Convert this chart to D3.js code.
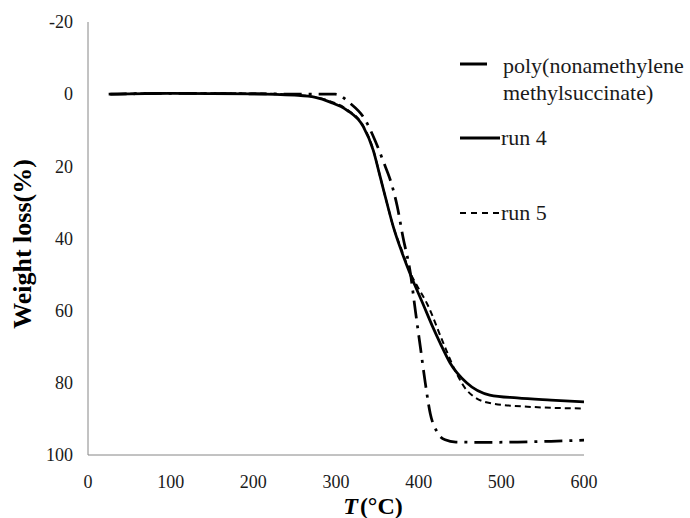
<!DOCTYPE html>
<html>
<head>
<meta charset="utf-8">
<script src="https://cdn.jsdelivr.net/npm/d3@7"></script>
<style>
  body { margin: 0; background: #fff; }
  svg { display: block; }
</style>
</head>
<body>
<svg id="chart" width="690" height="518" font-family="Liberation Serif, Times New Roman, serif"></svg>
<script>
// TGA curves, weight loss (%) vs temperature (C)
var xTicks = [0, 100, 200, 300, 400, 500, 600];
var yTicks = [-20, 0, 20, 40, 60, 80, 100];

var polyT = [25, 100, 200, 270, 299, 317, 335, 347, 357, 368, 374, 381, 390, 396, 402, 408, 414, 422, 432, 445, 480, 520, 560, 600];
var polyW = [0, -0.2, -0.1, 0, 0, 2.5, 7, 12.7, 18.5, 25.5, 31, 39.6, 49.6, 60, 70, 80, 88.5, 93.5, 95.8, 96.4, 96.5, 96.4, 96.2, 95.9];

var run4T = [27, 100, 200, 250, 275, 293, 313, 333, 345, 353, 362, 369, 380, 390, 405, 417, 426, 438, 458, 486, 519, 560, 600];
var run4W = [0, -0.2, -0.1, 0.3, 0.9, 2.2, 4.4, 9, 15.5, 22.5, 30.5, 36.5, 44, 50, 58, 64.5, 69, 74.5, 80, 83.4, 84.2, 84.8, 85.3];

var run5T = [27, 100, 200, 250, 275, 293, 313, 333, 345, 353, 362, 369, 380, 390, 399, 410, 429, 445, 458, 486, 538, 600];
var run5W = [0, -0.3, -0.2, 0.2, 0.8, 2.0, 4.2, 8.8, 15.3, 22.5, 30.5, 36.5, 43.5, 49.6, 53.5, 58, 68.5, 77, 82, 85.6, 86.7, 87.1];

var seriesNames = ["poly(nonamethylene", "run 4", "run 5"];

var svg = d3.select("#chart");

var x = d3.scaleLinear().domain([0, 600]).range([88, 584]);
var y = d3.scaleLinear().domain([-20, 100]).range([22, 455]);

// axis lines (no tick marks, like the original)
svg.append("line")
    .attr("x1", x(0)).attr("x2", x(0))
    .attr("y1", y(-20)).attr("y2", y(100))
    .attr("stroke", "#868686").attr("stroke-width", 1);
svg.append("line")
    .attr("x1", x(0)).attr("x2", x(600))
    .attr("y1", y(100)).attr("y2", y(100))
    .attr("stroke", "#868686").attr("stroke-width", 1);

svg.selectAll(".ytick")
    .data(yTicks)
    .enter()
    .append("text")
    .attr("class", "ytick")
    .attr("x", 73)
    .attr("y", function (d) { return y(d); })
    .attr("dy", "0.35em")
    .attr("text-anchor", "end")
    .attr("font-size", 18)
    .attr("fill", "#1a1a1a")
    .text(function (d) { return d; });

svg.selectAll(".xtick")
    .data(xTicks)
    .enter()
    .append("text")
    .attr("class", "xtick")
    .attr("x", function (d) { return x(d); })
    .attr("y", 488)
    .attr("text-anchor", "middle")
    .attr("font-size", 18)
    .attr("fill", "#1a1a1a")
    .text(function (d) { return d; });

// axis titles
svg.append("text")
    .attr("transform", "translate(31,244) rotate(-90)")
    .attr("text-anchor", "middle")
    .attr("font-size", 26)
    .attr("font-weight", "bold")
    .attr("fill", "#000")
    .text("Weight loss(%)");

var xt = svg.append("text")
    .attr("x", 373)
    .attr("y", 514)
    .attr("text-anchor", "middle")
    .attr("font-size", 24)
    .attr("font-weight", "bold")
    .attr("fill", "#000");
xt.append("tspan").attr("font-style", "italic").text("T");
xt.append("tspan").attr("dx", 2).text("(\u00B0C)");

// curves
var line = d3.line()
    .x(function (d) { return x(d[0]); })
    .y(function (d) { return y(d[1]); })
    .curve(d3.curveMonotoneX);

svg.append("path")
    .datum(d3.zip(run5T, run5W))
    .attr("d", line)
    .attr("fill", "none")
    .attr("stroke", "#000")
    .attr("stroke-width", 2)
    .attr("stroke-dasharray", "6,4");

svg.append("path")
    .datum(d3.zip(run4T, run4W))
    .attr("d", line)
    .attr("fill", "none")
    .attr("stroke", "#000")
    .attr("stroke-width", 2.75);

svg.append("path")
    .datum(d3.zip(polyT, polyW))
    .attr("d", line)
    .attr("fill", "none")
    .attr("stroke", "#000")
    .attr("stroke-width", 2.75)
    .attr("stroke-dasharray", "18,7,3,7");

// legend
var lg = svg.append("g").attr("fill", "#1a1a1a").attr("font-size", 22);

lg.append("line")
    .attr("x1", 460).attr("x2", 487).attr("y1", 64).attr("y2", 64)
    .attr("stroke", "#000").attr("stroke-width", 3);
lg.append("text").attr("x", 503).attr("y", 73).text(seriesNames[0]);
lg.append("text").attr("x", 503).attr("y", 100).text("methylsuccinate)");

lg.append("line")
    .attr("x1", 460).attr("x2", 500).attr("y1", 138).attr("y2", 138)
    .attr("stroke", "#000").attr("stroke-width", 3);
lg.append("text").attr("x", 501).attr("y", 145).text(seriesNames[1]);

lg.append("line")
    .attr("x1", 460).attr("x2", 500).attr("y1", 213).attr("y2", 213)
    .attr("stroke", "#000").attr("stroke-width", 2)
    .attr("stroke-dasharray", "6,5");
lg.append("text").attr("x", 501).attr("y", 220).text(seriesNames[2]);
</script>
</body>
</html>
